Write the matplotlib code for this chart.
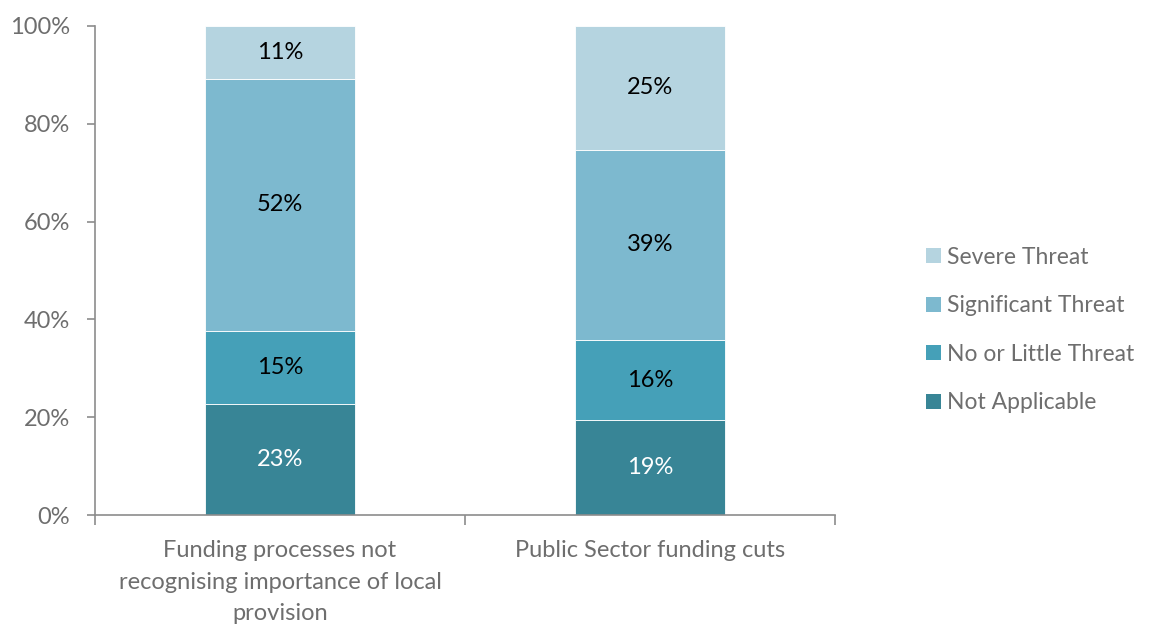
import matplotlib
matplotlib.use("Agg")
import matplotlib.pyplot as plt
from matplotlib.patches import Patch
import numpy as np

plt.rcParams['font.family'] = ['Lato', 'DejaVu Sans']

# Share of respondents per threat level (percent)
categories = ['Funding processes not\nrecognising importance of local\nprovision',
              'Public Sector funding cuts']
series = ['Not Applicable', 'No or Little Threat', 'Significant Threat', 'Severe Threat']
not_applicable = [22.6, 19.4]
little_threat = [15.1, 16.4]
significant = [51.5, 38.9]
severe = [10.8, 25.3]
colors = ['#388596', '#45A0B8', '#7DB9CF', '#B5D4E0']
label_colors = ['white', 'black', 'black', 'black']

values = [not_applicable, little_threat, significant, severe]
fs = 17

fig = plt.figure(figsize=(11.53, 6.24), dpi=100)
ax = fig.add_axes([95 / 1153, 1 - 515 / 624, 740 / 1153, 489 / 624])

x = np.arange(len(categories))
bottom = np.zeros(len(categories))
for name, vals, col, tcol in zip(series, values, colors, label_colors):
    bars = ax.bar(x, vals, width=0.405, bottom=bottom, color=col,
                  edgecolor='white', linewidth=0.6, label=name)
    for b, v in zip(bars, vals):
        ax.text(b.get_x() + b.get_width() / 2, b.get_y() + v / 2,
                f'{v:.0f}%', ha='center', va='center', fontsize=fs, color=tcol)
    bottom += vals

grey = '#8c8c8c'
ax.set_xlim(-0.5, 1.5)
ax.set_ylim(0, 100)
ax.set_yticks(np.arange(0, 101, 20))
ax.set_yticklabels([f'{t}%' for t in range(0, 101, 20)])
ax.set_xticks(x)
ax.set_xticklabels(categories, linespacing=1.62)
ax.set_xticks([-0.5, 0.5, 1.5], minor=True)
ax.tick_params(axis='x', which='major', length=0, pad=18, labelsize=fs, labelcolor='#6e6e6e')
ax.tick_params(axis='x', which='minor', length=7, color=grey, width=1.2, direction='out')
ax.tick_params(axis='y', length=6, color=grey, width=1.2, labelsize=fs,
               labelcolor='#6e6e6e', pad=12)
for s in ['top', 'right']:
    ax.spines[s].set_visible(False)
for s in ['left', 'bottom']:
    ax.spines[s].set_color(grey)
    ax.spines[s].set_linewidth(1.2)

handles = [Patch(facecolor=c, label=n) for n, c in zip(series, colors)][::-1]
leg = fig.legend(handles=handles, loc='center left', bbox_to_anchor=(905 / 1153, 1 - 330 / 624),
                 frameon=False, fontsize=16.5, handlelength=0.65, handleheight=0.65,
                 handletextpad=0.3, labelspacing=1.2)
for t in leg.get_texts():
    t.set_color('#6e6e6e')

fig.savefig('out.png', dpi=100)
